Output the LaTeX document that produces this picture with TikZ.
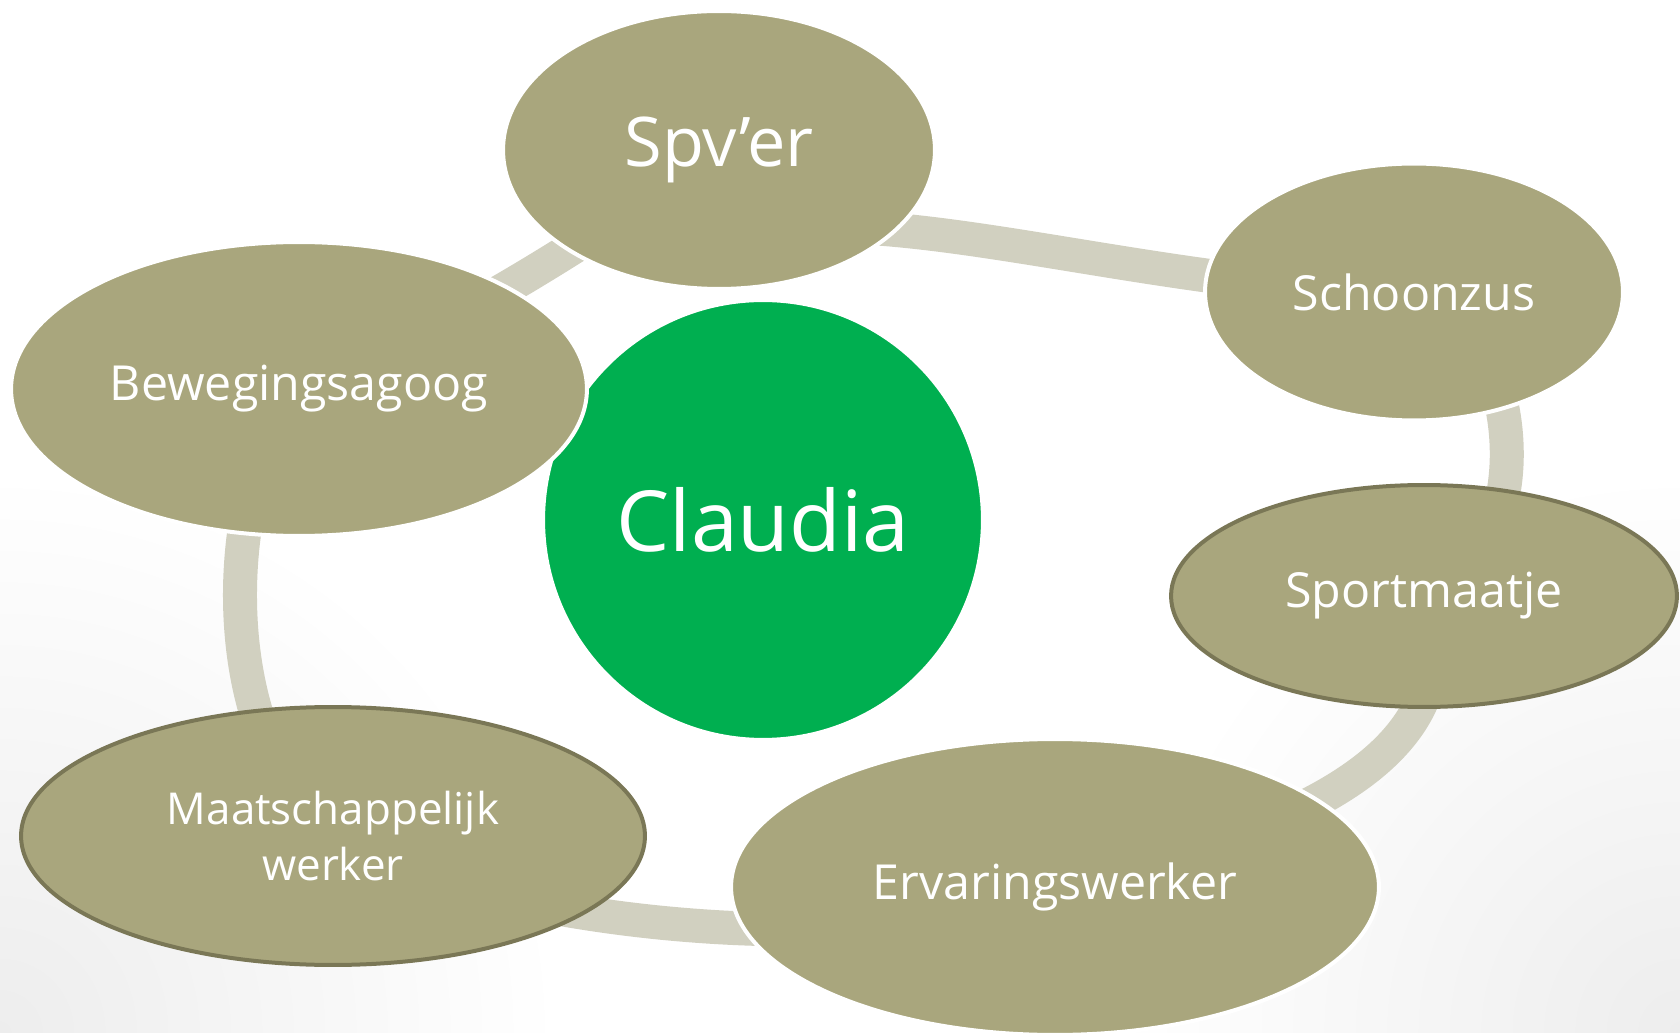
\documentclass[tikz,border=0pt]{standalone}
\usepackage{fontspec}
\setmainfont{Open Sans}
\usetikzlibrary{shapes.geometric,backgrounds}

\definecolor{olivefill}{HTML}{A9A67D}
\definecolor{oliveline}{HTML}{7A7756}
\definecolor{ringgray}{HTML}{D1D0C0}
\definecolor{claudiagreen}{HTML}{00AF50}

\begin{document}
\begin{tikzpicture}[
    x=0.02cm,
    y=0.02cm,
    role/.style={
		ellipse,
		fill=olivefill,
		draw=white,
		line width=0.08cm,
		inner sep=0pt,
		text=white,
		align=center,
		font=\fontsize{27.5}{33}\selectfont
	},
	framed/.style={
		draw=oliveline
	},
	ring/.style={
		draw=ringgray,
		line width=0.68cm
	}
  ]
  \useasboundingbox (0,0) rectangle (1680,1032);

    % We start by placing the blocks
  \node [circle, fill=claudiagreen, draw=white, line width=0.08cm, minimum size=8.8cm,
         inner sep=0pt, text=white, font=\fontsize{48}{56}\selectfont] (claudia) at (763,512) {Claudia};

  \node [role, minimum width=8.64cm, minimum height=5.56cm,
         font=\fontsize{39}{45}\selectfont] (spv) at (719,882) {Spv’er};
  \node [role, minimum width=8.36cm, minimum height=5.14cm] (schoon) at (1414,740) {Schoonzus};
  \node [role, framed, minimum width=10.12cm, minimum height=4.44cm] (sport) at (1424,436) {Sportmaatje};
  \node [role, minimum width=12.96cm, minimum height=5.92cm] (erv) at (1055,145) {Ervaringswerker};
  \node [role, framed, minimum width=12.48cm, minimum height=5.16cm,
         font=\fontsize{25}{32.4}\selectfont] (mw) at (333,196) {Maatschappelijk\\werker};
  \node [role, minimum width=11.52cm, minimum height=5.88cm] (bew) at (299,643) {Bewegingsagoog};

  % the ring behind the blocks
  \begin{scope}[on background layer]
    \shade [inner color=black!7, outer color=white] (0,0) circle (560);
    \shade [inner color=black!7, outer color=white] (1680,0) circle (560);
    \draw [ring] (bew.center) to [out=20, in=215, out distance=3cm, in distance=3cm] (spv.center);
    \draw [ring] (spv.center) to [out=-60, in=178] ++(131,-77)
                 to [out=-2, in=180, out distance=3cm, in distance=4cm] (schoon.center);
    \draw [ring] (schoon.center) to [out=-8, in=19, out distance=2.04cm, in distance=2.76cm] (sport.center);
    \draw [ring] (sport.center) to [out=-72, in=13, out distance=3.7cm, in distance=4cm] (erv.center);
    \draw [ring] (erv.center) to [out=206, in=-30, out distance=3.44cm, in distance=3.86cm] (mw.center);
    \draw [ring] (mw.center) to [out=141, in=228, out distance=3.3cm, in distance=2.22cm] (bew.center);
  \end{scope}

\end{tikzpicture}
\end{document}
